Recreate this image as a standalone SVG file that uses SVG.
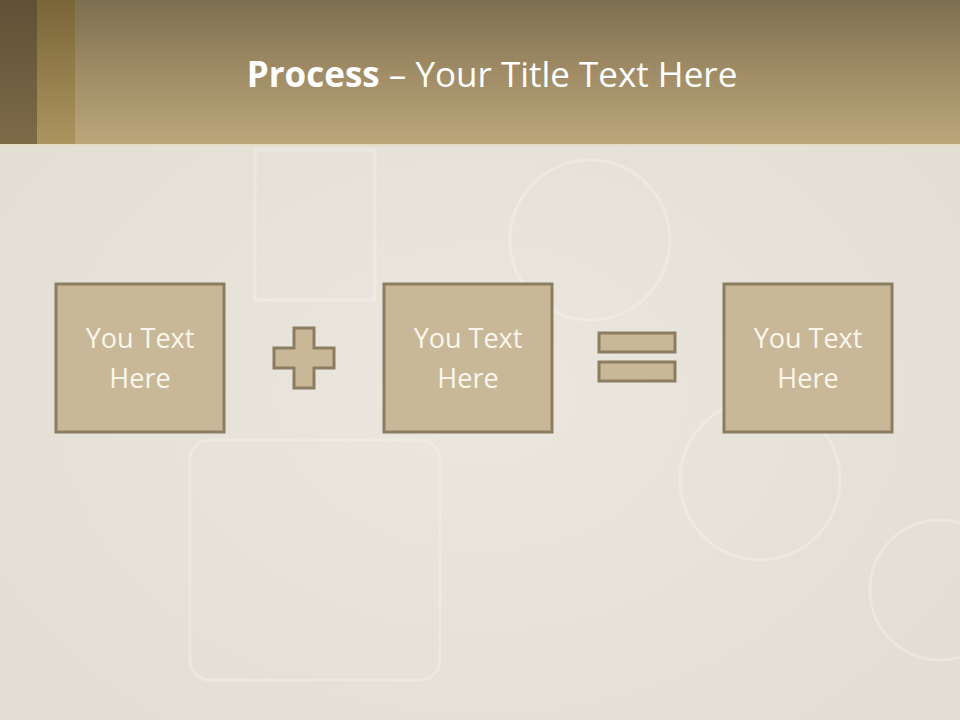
<svg xmlns="http://www.w3.org/2000/svg" width="960" height="720" viewBox="0 0 960 720">
<defs>
<linearGradient id="hdr" x1="0" y1="0" x2="0" y2="1">
<stop offset="0" stop-color="#7c6f50"/>
<stop offset="0.5" stop-color="#a08c66"/>
<stop offset="1" stop-color="#bba77a"/>
</linearGradient>
<linearGradient id="s1" x1="0" y1="0" x2="0" y2="1">
<stop offset="0" stop-color="#5f5036"/>
<stop offset="1" stop-color="#7d6b48"/>
</linearGradient>
<linearGradient id="s2" x1="0" y1="0" x2="0" y2="1">
<stop offset="0" stop-color="#7a6538"/>
<stop offset="1" stop-color="#ac955f"/>
</linearGradient>
<radialGradient id="bg" cx="0.5" cy="0.55" r="0.7">
<stop offset="0" stop-color="#ebe7df"/>
<stop offset="1" stop-color="#e1ddd2"/>
</radialGradient>
</defs>
<style>
.box{fill:#c9b898;stroke:#8c7d62;stroke-width:3}
.sym{fill:#c9b898;stroke:#8c7d62;stroke-width:3}
.lbl{font-family:"Open Sans","Liberation Sans",sans-serif;font-size:27px;fill:#faf6ec;text-anchor:middle}
.stamp{fill:none;stroke:#f4f1ea;stroke-width:3;opacity:0.45}
</style>
<rect x="0" y="0" width="960" height="720" fill="url(#bg)"/>
<g id="stamps">
<rect class="stamp" x="190" y="440" width="250" height="240" rx="20"/>
<rect class="stamp" x="255" y="150" width="120" height="150"/>
<circle class="stamp" cx="590" cy="240" r="80"/>
<circle class="stamp" cx="760" cy="480" r="80"/>
<circle class="stamp" cx="940" cy="590" r="70"/>
</g>
<g id="header">
<rect x="0" y="0" width="960" height="145" fill="url(#hdr)"/>
<rect x="0" y="0" width="37" height="145" fill="url(#s1)"/>
<rect x="37" y="0" width="38" height="145" fill="url(#s2)"/>
<rect x="0" y="144" width="960" height="2" fill="#e6dcc4"/>
<text x="492" y="87" font-family="'Open Sans','Liberation Sans',sans-serif" font-size="35" fill="#ffffff" text-anchor="middle"><tspan font-weight="bold">Process</tspan> – Your Title Text Here</text>
</g>
<g id="node1">
<rect class="box" x="56" y="284" width="168" height="148"/>
<text class="lbl" x="140" y="348">You Text</text>
<text class="lbl" x="140" y="388">Here</text>
</g>
<g id="node2">
<rect class="box" x="384" y="284" width="168" height="148"/>
<text class="lbl" x="468" y="348">You Text</text>
<text class="lbl" x="468" y="388">Here</text>
</g>
<g id="node3">
<rect class="box" x="724" y="284" width="168" height="148"/>
<text class="lbl" x="808" y="348">You Text</text>
<text class="lbl" x="808" y="388">Here</text>
</g>
<g id="connectors">
<path class="sym" d="M294,328 H314 V348 H334 V368 H314 V388 H294 V368 H274 V348 H294 Z"/>
<rect class="sym" x="599" y="333" width="76" height="19"/>
<rect class="sym" x="599" y="362" width="76" height="19"/>
</g>
</svg>
